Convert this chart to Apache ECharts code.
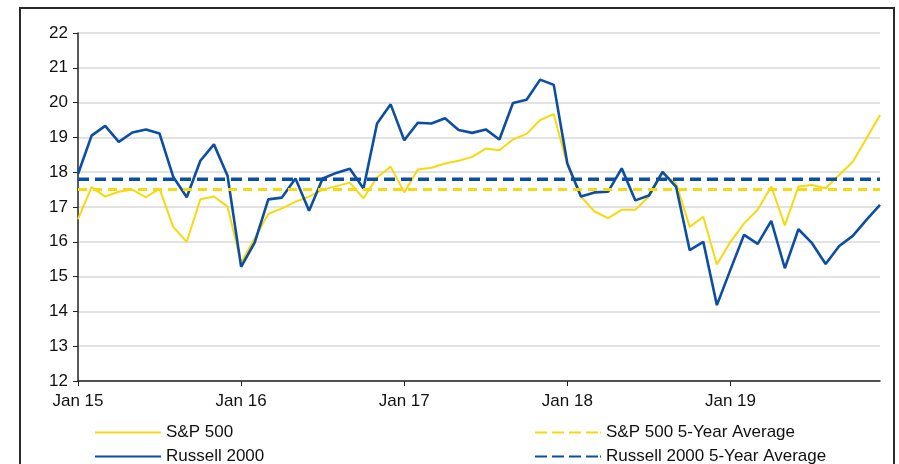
<!DOCTYPE html>
<html>
<head>
<meta charset="utf-8">
<title>P/E</title>
<style>
  html, body { margin: 0; padding: 0; background: #fff; }
  #main { width: 899px; height: 464px; }
</style>
</head>
<body>
<div id="main"></div>
<script src="https://cdn.jsdelivr.net/npm/echarts@6/dist/echarts.min.js"></script>
<script type="text/javascript">
    // x axis: monthly, Jan 15 .. Dec 19
    var years = ['15', '16', '17', '18', '19'];
    var monthNames = ['Jan', 'Feb', 'Mar', 'Apr', 'May', 'Jun', 'Jul', 'Aug', 'Sep', 'Oct', 'Nov', 'Dec'];
    var months = [];
    years.forEach(function (y) {
        monthNames.forEach(function (m) { months.push(m + ' ' + y); });
    });

    var sp500 = [
        16.65, 17.57, 17.30, 17.44, 17.50, 17.28, 17.53, 16.43, 16.00, 17.22, 17.30, 17.01,
        15.40, 16.10, 16.80, 16.96, 17.15, 17.30, 17.50, 17.60, 17.70, 17.25, 17.85, 18.16,
        17.42, 18.08, 18.13, 18.25, 18.33, 18.44, 18.68, 18.63, 18.94, 19.10, 19.50, 19.67,
        18.20, 17.30, 16.87, 16.68, 16.92, 16.92, 17.30, 17.96, 17.68, 16.43, 16.72, 15.35,
        16.00, 16.53, 16.92, 17.59, 16.47, 17.59, 17.63, 17.54, 17.92, 18.30, 18.97, 19.64
    ];
    var russell2000 = [
        17.95, 19.05, 19.33, 18.87, 19.14, 19.23, 19.11, 17.87, 17.28, 18.33, 18.80, 17.90,
        15.28, 15.98, 17.22, 17.27, 17.82, 16.89, 17.82, 17.98, 18.10, 17.53, 19.40, 19.95,
        18.92, 19.42, 19.40, 19.55, 19.21, 19.13, 19.23, 18.94, 19.99, 20.08, 20.66, 20.51,
        18.25, 17.30, 17.42, 17.44, 18.11, 17.19, 17.33, 18.01, 17.58, 15.76, 16.00, 14.18,
        15.20, 16.20, 15.94, 16.60, 15.24, 16.36, 15.96, 15.36, 15.88, 16.17, 16.63, 17.06
    ];
    var sp500Avg = 17.5;
    var russellAvg = 17.8;

    var yMin = 12, yMax = 22, yStep = 1;

    var first = months[0], last = months[months.length - 1];
    var font = "'Liberation Sans', Arial, sans-serif";
    var yellow = '#f6d90f', blue = '#0b4ea2';

    // legend icons: a plain bar for the lines, a row of dashes for the averages
    var solidIcon = 'path://M0,0H66V2H0Z';
    var dashIcon = 'path://M0,0H12V2H0Z M17,0H29V2H17Z M34,0H46V2H34Z M51,0H63V2H51Z M65,0H66V2H65Z';

    function legendAt(left, top, name, icon, h) {
        return {
            left: left, top: top, orient: 'vertical',
            icon: icon, itemWidth: 66, itemHeight: h,
            textStyle: { fontSize: 17, color: '#111', fontFamily: font },
            data: [name]
        };
    }

    var myChart = echarts.init(document.getElementById('main'));
    var option = {
        backgroundColor: '#fff',
        animation: false,
        textStyle: { fontFamily: font },
        graphic: [{
            type: 'rect',
            shape: { x: 20, y: 8, width: 874, height: 480 },
            style: { fill: 'none', stroke: '#2a2a2a', lineWidth: 2 },
            silent: true
        }],
        grid: { left: 78, right: 19, top: 33, bottom: 83 },
        legend: [
            legendAt(90, 419, 'S&P 500', solidIcon, 2),
            legendAt(90, 443, 'Russell 2000', solidIcon, 3),
            legendAt(530, 419, 'S&P 500 5-Year Average', dashIcon, 3),
            legendAt(530, 443, 'Russell 2000 5-Year Average', dashIcon, 4)
        ],
        xAxis: {
            type: 'category',
            boundaryGap: false,
            data: months,
            axisLine: { lineStyle: { color: '#222', width: 1.5 } },
            axisTick: { show: true, interval: 11, length: 5, lineStyle: { color: '#222' } },
            axisLabel: { interval: 11, margin: 12, fontSize: 17, color: '#111', fontFamily: font },
            splitLine: { show: false }
        },
        yAxis: {
            type: 'value',
            min: yMin, max: yMax, interval: yStep,
            axisLine: { show: true, lineStyle: { color: '#222', width: 1.5 } },
            axisTick: { show: true, length: 5, lineStyle: { color: '#222' } },
            axisLabel: { margin: 10, fontSize: 17, color: '#111', fontFamily: font },
            splitLine: { lineStyle: { color: '#d9d9d9', width: 1.5 } }
        },
        series: [
            {
                name: 'S&P 500', type: 'line', data: sp500,
                symbol: 'none',
                lineStyle: { color: yellow, width: 2 },
                itemStyle: { color: yellow }
            },
            {
                name: 'Russell 2000', type: 'line', data: russell2000,
                symbol: 'none',
                lineStyle: { color: blue, width: 2.6 },
                itemStyle: { color: blue }
            },
            {
                name: 'S&P 500 5-Year Average', type: 'line',
                data: [[first, sp500Avg], [last, sp500Avg]],
                symbol: 'none',
                lineStyle: { color: yellow, width: 3, type: [9, 6] },
                itemStyle: { color: yellow }
            },
            {
                name: 'Russell 2000 5-Year Average', type: 'line',
                data: [[first, russellAvg], [last, russellAvg]],
                symbol: 'none',
                lineStyle: { color: blue, width: 3.5, type: [11, 6] },
                itemStyle: { color: blue }
            }
        ]
    };

    myChart.setOption(option);
</script>
</body>
</html>
